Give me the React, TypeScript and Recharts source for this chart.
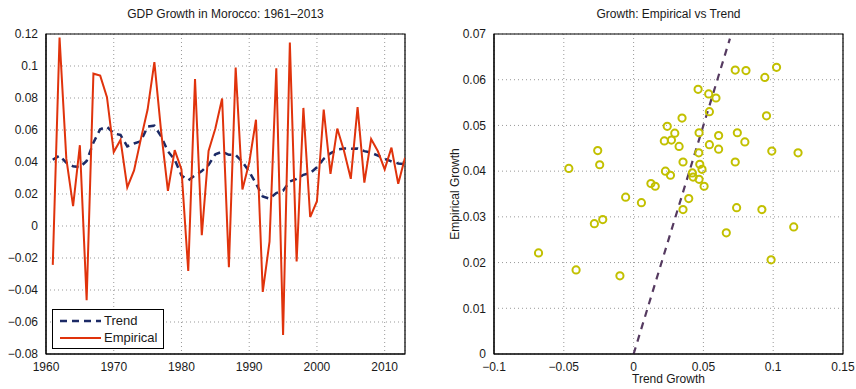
import {
  CartesianGrid,
  ComposedChart,
  Line,
  ReferenceArea,
  ReferenceLine,
  Scatter,
  ScatterChart,
  XAxis,
  YAxis,
} from "recharts";

// GDP growth in Morocco, 1961–2013
const YEARS = Array.from({ length: 53 }, (_, i) => 1961 + i);

const EMPIRICAL = [
  -0.0243, 0.1178, 0.0421, 0.0124, 0.0505, -0.0464, 0.0952, 0.094, 0.0805, 0.0462,
  0.0538, 0.0241, 0.0347, 0.0543, 0.0728, 0.1024, 0.059, 0.022, 0.0474, 0.0354,
  -0.0281, 0.0919, -0.0057, 0.0469, 0.0609, 0.0797, -0.0257, 0.099, 0.0228, 0.0395,
  0.0664, -0.0412, -0.0098, 0.0985, -0.0681, 0.1147, -0.0221, 0.0738, 0.0056, 0.0155,
  0.0728, 0.0326, 0.0609, 0.0469, 0.0295, 0.0743, 0.0271, 0.0543, 0.0467, 0.0354,
  0.049, 0.0264, 0.0426,
];

const TREND = [
  0.0414, 0.044, 0.0396, 0.0373, 0.0367, 0.0406, 0.0521, 0.0605, 0.062, 0.0579,
  0.0569, 0.0498, 0.0516, 0.053, 0.0621, 0.0627, 0.056, 0.0466, 0.0415, 0.0316,
  0.0285, 0.0316, 0.0343, 0.0382, 0.0448, 0.0464, 0.0445, 0.0444, 0.04, 0.034,
  0.0265, 0.0184, 0.0171, 0.0206, 0.0221, 0.0278, 0.0294, 0.032, 0.0331, 0.0367,
  0.042, 0.0454, 0.0478, 0.0484, 0.0483, 0.0484, 0.0468, 0.0458, 0.044, 0.042,
  0.0404, 0.0391, 0.0387,
];

const YEAR_TICKS = [1960, 1970, 1980, 1990, 2000, 2010];
const GROWTH_TICKS = [-0.08, -0.06, -0.04, -0.02, 0, 0.02, 0.04, 0.06, 0.08, 0.1, 0.12];
const TREND_TICKS = [-0.1, -0.05, 0, 0.05, 0.1, 0.15];
const EMP_TICKS = [0, 0.01, 0.02, 0.03, 0.04, 0.05, 0.06, 0.07];
const DIAGONAL = [
  { x: 0, y: 0 },
  { x: 0.069, y: 0.069 },
];

const lineData = YEARS.map((year, i) => ({ year, trend: TREND[i], empirical: EMPIRICAL[i] }));
const scatterData = YEARS.map((_, i) => ({ x: EMPIRICAL[i], y: TREND[i] }));

const FONT = "'Liberation Sans', Arial, sans-serif";
const TEXT = "#1a1a1a";
const tickStyle = { fontSize: 12, fill: TEXT, fontFamily: FONT };
const fmt = (v: number) => {
  const s = String(+v.toFixed(3));
  return s.startsWith("-") ? "\u2212" + s.slice(1) : s;
};

function LegendBox() {
  return (
    <div
      style={{
        position: "absolute",
        left: 52,
        top: 309,
        border: "1px solid #000",
        background: "#fff",
        width: 112,
        height: 40,
        boxSizing: "border-box",
        fontFamily: FONT,
        fontSize: 13,
        color: TEXT,
        padding: "2px 0 0 7px",
      }}
    >
      <div style={{ display: "flex", alignItems: "center", height: 17 }}>
        <svg width={41} height={6}>
          <line x1={0} y1={3} x2={41} y2={3} stroke="#1c2a66" strokeWidth={2.5} strokeDasharray="7 5" />
        </svg>
        <span style={{ marginLeft: 3 }}>Trend</span>
      </div>
      <div style={{ display: "flex", alignItems: "center", height: 17 }}>
        <svg width={41} height={6}>
          <line x1={0} y1={3} x2={41} y2={3} stroke="#e0330c" strokeWidth={2} />
        </svg>
        <span style={{ marginLeft: 3 }}>Empirical</span>
      </div>
    </div>
  );
}

const label = { position: "absolute" as const, fontFamily: FONT, fontSize: 12, color: TEXT, textAlign: "center" as const };

export default function App() {
  return (
    <div style={{ position: "fixed", left: 0, top: 0, width: 856, height: 389, background: "#fff" }}>
      <div style={{ ...label, left: 46, width: 359, top: 7 }}>GDP Growth in Morocco: 1961–2013</div>
      <div style={{ ...label, left: 494, width: 349, top: 7 }}>Growth: Empirical vs Trend</div>
      <div style={{ ...label, left: 494, width: 349, top: 372 }}>Trend Growth</div>
      <div
        style={{
          ...label,
          left: 455,
          top: 194,
          transform: "translate(-50%, -50%) rotate(-90deg)",
          whiteSpace: "nowrap",
        }}
      >
        Empirical Growth
      </div>

      <div style={{ position: "absolute", left: 0, top: 0 }}>
        <ComposedChart width={420} height={389} data={lineData} margin={{ top: 34, right: 15, bottom: 15, left: 6 }}>
          <CartesianGrid stroke="#999" strokeDasharray="1 3" />
          <XAxis
            dataKey="year"
            type="number"
            domain={[1960, 2013]}
            ticks={YEAR_TICKS}
            tick={tickStyle}
            tickLine={false}
            axisLine={{ stroke: "#000" }}
            height={20}
            allowDataOverflow
          />
          <YAxis
            type="number"
            domain={[-0.08, 0.12]}
            ticks={GROWTH_TICKS}
            tick={tickStyle}
            tickFormatter={fmt}
            tickLine={false}
            axisLine={{ stroke: "#000" }}
            width={40}
            allowDataOverflow
          />
          <ReferenceArea x1={1960} x2={2013} y1={-0.08} y2={0.12} fill="none" stroke="#000" strokeWidth={1.2} ifOverflow="visible" />
          <Line
            dataKey="trend"
            stroke="#1c2a66"
            strokeWidth={2.5}
            strokeDasharray="7 5"
            dot={false}
            isAnimationActive={false}
          />
          <Line dataKey="empirical" stroke="#e0330c" strokeWidth={2} dot={false} isAnimationActive={false} />
        </ComposedChart>
      </div>
      <LegendBox />

      <div style={{ position: "absolute", left: 440, top: 0 }}>
        <ScatterChart width={416} height={389} margin={{ top: 34, right: 13, bottom: 15, left: 14 }}>
          <CartesianGrid stroke="#999" strokeDasharray="1 3" />
          <XAxis
            dataKey="x"
            type="number"
            domain={[-0.1, 0.15]}
            ticks={TREND_TICKS}
            tick={tickStyle}
            tickFormatter={fmt}
            tickLine={false}
            axisLine={{ stroke: "#000" }}
            height={20}
            allowDataOverflow
          />
          <YAxis
            dataKey="y"
            type="number"
            domain={[0, 0.07]}
            ticks={EMP_TICKS}
            tick={tickStyle}
            tickFormatter={fmt}
            tickLine={false}
            axisLine={{ stroke: "#000" }}
            width={40}
            allowDataOverflow
          />
          <ReferenceArea x1={-0.1} x2={0.15} y1={0} y2={0.07} fill="none" stroke="#000" strokeWidth={1.2} ifOverflow="visible" />
          <ReferenceLine segment={DIAGONAL} stroke="#553a60" strokeWidth={2.2} strokeDasharray="7 6" ifOverflow="visible" />
          <Scatter
            data={scatterData}
            isAnimationActive={false}
            shape={(p: any) => <circle cx={p.cx} cy={p.cy} r={3.6} fill="none" stroke="#c2c000" strokeWidth={2} />}
          />
        </ScatterChart>
      </div>
    </div>
  );
}
